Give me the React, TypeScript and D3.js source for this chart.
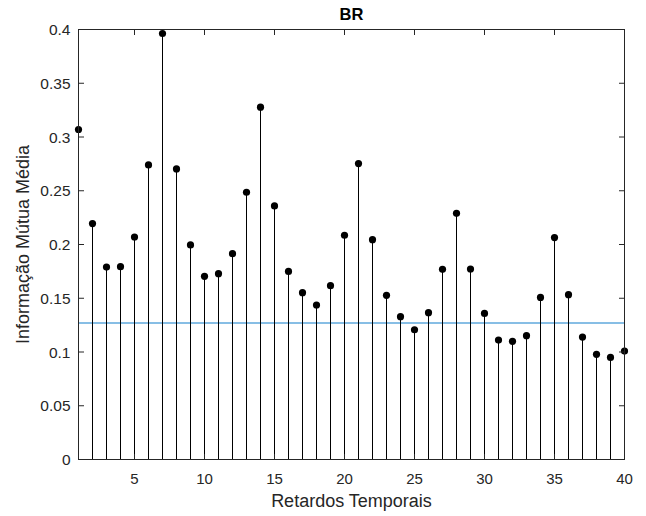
import React from "react";
import * as d3 from "d3";

const lags: number[] = Array.from({ length: 40 }, (_, i) => i + 1);
const values: number[] = [
  0.307, 0.2195, 0.179, 0.1794, 0.207, 0.274, 0.3963, 0.2703, 0.1996, 0.1704,
  0.1729, 0.1915, 0.2486, 0.3277, 0.2359, 0.175, 0.1552, 0.1437, 0.1617, 0.2086,
  0.2753, 0.2045, 0.1527, 0.1329, 0.1207, 0.1366, 0.1769, 0.229, 0.1772, 0.1359,
  0.1111, 0.1099, 0.1152, 0.1508, 0.2064, 0.1533, 0.1139, 0.0978, 0.095, 0.1009,
];
const threshold = 0.1269;
const xTicks: number[] = [5, 10, 15, 20, 25, 30, 35, 40];
const yTicks: number[] = [0, 0.05, 0.1, 0.15, 0.2, 0.25, 0.3, 0.35, 0.4];
const title = "BR";
const xLabel = "Retardos Temporais";
const yLabel = "Informação Mútua Média";

const W = 646;
const H = 516;
const L = 78.5;
const R = 624.5;
const T = 29.5;
const B = 459.5;

export default function App() {
  const x = d3.scaleLinear().domain([1, 40]).range([L, R]);
  const y = d3.scaleLinear().domain([0, 0.4]).range([B, T]);
  const axisColor = "#262626";
  const font = "'Liberation Sans', Arial, Helvetica, sans-serif";
  const tl = 5.5;
  return (
    <svg
      width={W}
      height={H}
      style={{ position: "absolute", left: 0, top: 0, background: "#fff" }}
      fontFamily={font}
    >
      <rect x={0} y={0} width={W} height={H} fill="#fff" />
      {/* threshold line */}
      <line
        x1={x(1)}
        x2={x(40)}
        y1={y(threshold)}
        y2={y(threshold)}
        stroke="#5fa9dd"
        strokeWidth={1.5}
      />
      {/* stems */}
      {lags.map((l, i) => (
        <line
          key={"s" + l}
          x1={x(l)}
          x2={x(l)}
          y1={y(0)}
          y2={y(values[i])}
          stroke="#000"
          strokeWidth={1}
        />
      ))}
      {lags.map((l, i) => (
        <circle key={"c" + l} cx={x(l)} cy={y(values[i])} r={3.6} fill="#000" />
      ))}
      {/* box */}
      <rect
        x={L}
        y={T}
        width={R - L}
        height={B - T}
        fill="none"
        stroke={axisColor}
        strokeWidth={1}
      />
      {/* x ticks */}
      {xTicks.map((t) => (
        <g key={"xt" + t}>
          <line x1={x(t)} x2={x(t)} y1={B} y2={B - tl} stroke={axisColor} />
          <line x1={x(t)} x2={x(t)} y1={T} y2={T + tl} stroke={axisColor} />
          <text
            x={x(t)}
            y={483.5}
            textAnchor="middle"
            fontSize={15}
            fill={axisColor}
          >
            {t}
          </text>
        </g>
      ))}
      {/* y ticks */}
      {yTicks.map((t) => (
        <g key={"yt" + t}>
          <line x1={L} x2={L + tl} y1={y(t)} y2={y(t)} stroke={axisColor} />
          <line x1={R} x2={R - tl} y1={y(t)} y2={y(t)} stroke={axisColor} />
          <text
            x={L - 8}
            y={y(t)}
            dy="0.36em"
            textAnchor="end"
            fontSize={15.5}
            fill={axisColor}
          >
            {String(t)}
          </text>
        </g>
      ))}
      <text
        x={(L + R) / 2}
        y={19.5}
        textAnchor="middle"
        fontSize={16.5}
        fontWeight="bold"
        fill="#000"
      >
        {title}
      </text>
      <text
        x={(L + R) / 2}
        y={507}
        textAnchor="middle"
        fontSize={18}
        fill={axisColor}
      >
        {xLabel}
      </text>
      <text
        transform={`translate(29, ${(T + B) / 2}) rotate(-90)`}
        textAnchor="middle"
        fontSize={18}
        fill={axisColor}
      >
        {yLabel}
      </text>
    </svg>
  );
}
